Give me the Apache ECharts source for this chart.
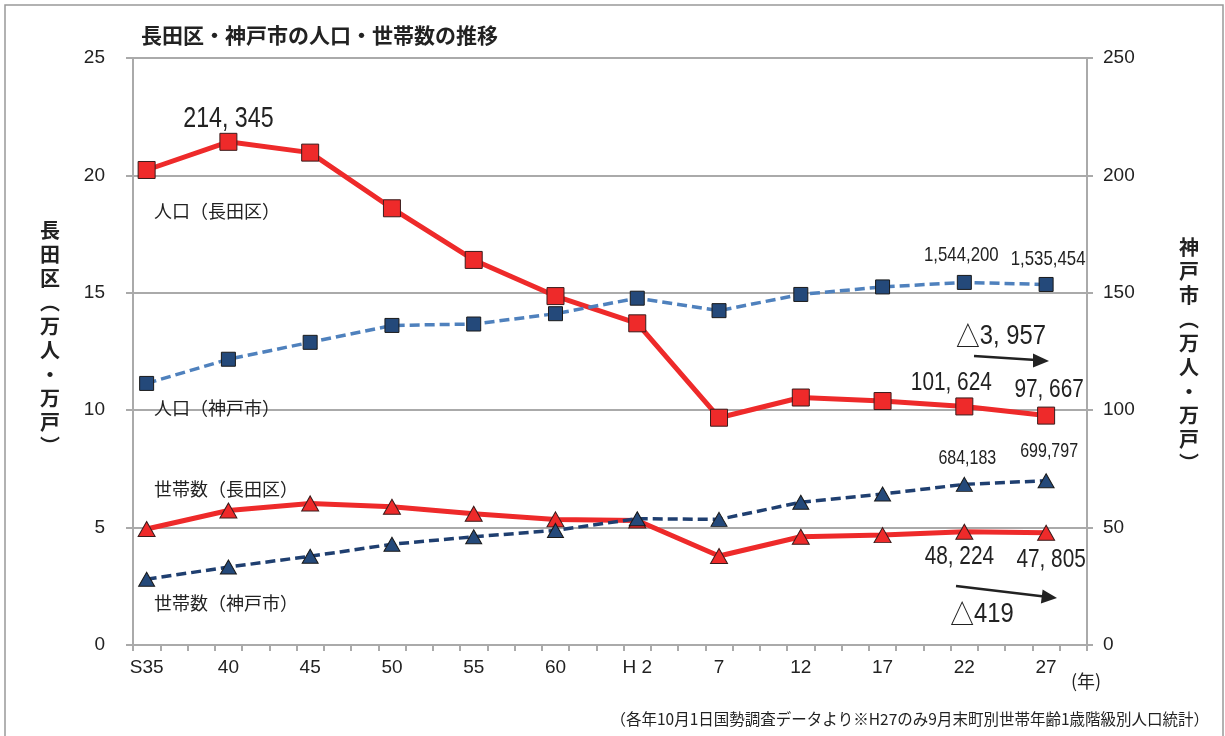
<!DOCTYPE html>
<html>
<head>
<meta charset="utf-8">
<script src="https://cdn.jsdelivr.net/npm/echarts@6/dist/echarts.min.js"></script>
<style>
html, body { margin: 0; padding: 0; background: #fff; }
#main { width: 1225px; height: 736px; }
</style>
</head>
<body>
<div id="main"></div>
<script>
// 調査年（和暦）
const years = ['S35', '40', '45', '50', '55', '60', 'H 2', '7', '12', '17', '22', '27'];
// 長田区（万人・万戸） 左軸
const nagataPop = [20.23, 21.43, 20.97, 18.60, 16.40, 14.86, 13.70, 9.68, 10.54, 10.39, 10.16, 9.77];
const nagataHh = [4.94, 5.73, 6.03, 5.89, 5.59, 5.35, 5.30, 3.79, 4.61, 4.68, 4.82, 4.78];
// 神戸市（万人・万戸） 右軸
const kobePop = [111.4, 121.7, 128.9, 136.1, 136.7, 141.1, 147.7, 142.4, 149.3, 152.5, 154.42, 153.55];
const kobeHh = [28.0, 33.2, 37.8, 42.9, 46.1, 48.8, 53.8, 53.5, 60.8, 64.3, 68.42, 69.98];

// 元のグラフは1区間を3目盛りに分けているので、35カテゴリに展開する
const STEP = 3;
const N_CAT = 35;
const cats = [];
for (let i = 0; i < N_CAT; i++) cats.push(i % STEP === 0 ? years[i / STEP] : '');

function spread(values) {
  const out = new Array(N_CAT).fill(null);
  values.forEach((v, k) => { out[k * STEP] = v; });
  return out;
}

// 数値ラベル（系列番号, 年の番号, 表示, ずらし, 文字サイズ）
const valueNotes = [
  [0, 1, '214, 345', 0, -23, 29],
  [0, 10, '101, 624', -13, -24, 26],
  [0, 11, '97, 667', 3, -26, 26],
  [1, 10, '48, 224', -5, 25, 26],
  [1, 11, '47, 805', 5, 27, 26],
  [2, 10, '1,544,200', -3, -27, 21],
  [2, 11, '1,535,454', 2, -25, 21],
  [3, 10, '684,183', 3, -26, 20],
  [3, 11, '699,797', 3, -29, 20]
];

const NUM_FONT = "'Liberation Sans', Arial, sans-serif";
const JP_FONT = "'Noto Sans CJK JP', sans-serif";
const red = '#ee2a2a';
const blueLine = '#4f81bd';
const navy = '#24497a';

const chart = echarts.init(document.getElementById('main'));

const seriesValues = [nagataPop, nagataHh, kobePop, kobeHh];
const seriesAxis = [0, 0, 1, 1];

const option = {
  animation: false,
  title: {
    text: '長田区・神戸市の人口・世帯数の推移',
    left: 136, top: 20,
    textStyle: { fontSize: 21, fontWeight: 'bold', color: '#222', fontFamily: JP_FONT }
  },
  grid: { left: 133, right: 138, top: 58, bottom: 91 },
  xAxis: {
    type: 'category',
    data: cats,
    boundaryGap: true,
    axisLine: { lineStyle: { color: '#aaa', width: 2 } },
    axisTick: { show: true, interval: 0, length: 6, lineStyle: { color: '#aaa', width: 2 } },
    axisLabel: { interval: 0, margin: 13, fontSize: 19, color: '#222', fontFamily: NUM_FONT }
  },
  yAxis: [
    {
      type: 'value', min: 0, max: 25, interval: 5, position: 'left',
      axisLine: { show: true, lineStyle: { color: '#aaa', width: 2 } },
      axisTick: { show: true, length: 7, lineStyle: { color: '#aaa', width: 2 } },
      splitLine: { lineStyle: { color: '#aaa', width: 2 } },
      axisLabel: { margin: 28, fontSize: 19, color: '#222', fontFamily: NUM_FONT }
    },
    {
      type: 'value', min: 0, max: 250, interval: 50, position: 'right',
      axisLine: { show: true, lineStyle: { color: '#aaa', width: 2 } },
      axisTick: { show: true, length: 6, lineStyle: { color: '#aaa', width: 2 } },
      splitLine: { show: false },
      axisLabel: { margin: 16, fontSize: 19, color: '#222', fontFamily: NUM_FONT }
    }
  ],
  series: [
    {
      name: '人口(長田区)', type: 'line', yAxisIndex: 0, connectNulls: true,
      data: spread(nagataPop),
      symbol: 'rect', symbolSize: 17,
      lineStyle: { color: red, width: 5 },
      itemStyle: { color: red, borderColor: '#3a1c1c', borderWidth: 1 },
      z: 2
    },
    {
      name: '世帯数(長田区)', type: 'line', yAxisIndex: 0, connectNulls: true,
      data: spread(nagataHh),
      symbol: 'triangle', symbolSize: [17, 15],
      lineStyle: { color: red, width: 5 },
      itemStyle: { color: red, borderColor: '#3a1c1c', borderWidth: 1 },
      z: 2
    },
    {
      name: '人口(神戸市)', type: 'line', yAxisIndex: 1, connectNulls: true,
      data: spread(kobePop),
      symbol: 'rect', symbolSize: 14,
      lineStyle: { color: blueLine, width: 3.5, type: [10, 5] },
      itemStyle: { color: navy, borderColor: '#1a1a1a', borderWidth: 1 },
      z: 3
    },
    {
      name: '世帯数(神戸市)', type: 'line', yAxisIndex: 1, connectNulls: true,
      data: spread(kobeHh),
      symbol: 'triangle', symbolSize: [16, 14],
      lineStyle: { color: '#1f3f70', width: 3.5, type: [10, 5] },
      itemStyle: { color: navy, borderColor: '#1a1a1a', borderWidth: 1 },
      z: 3
    }
  ]
};

chart.setOption(option);

const graphics = [
  { type: 'rect', shape: { x: 5, y: 5, width: 1218, height: 740 }, style: { fill: 'none', stroke: '#999', lineWidth: 1.5 }, silent: true },
  // 縦書きの軸名
  { type: 'text', x: 50, y: 218, style: { text: '長\n田\n区\n︵\n万\n人\n・\n万\n戸\n︶', fontSize: 20, fontWeight: 'bold', fontFamily: JP_FONT, lineHeight: 24, align: 'center', verticalAlign: 'top', fill: '#222' } },
  { type: 'text', x: 1189, y: 235, style: { text: '神\n戸\n市\n︵\n万\n人\n・\n万\n戸\n︶', fontSize: 20, fontWeight: 'bold', fontFamily: JP_FONT, lineHeight: 24, align: 'center', verticalAlign: 'top', fill: '#222' } },
  // 系列名
  { type: 'text', x: 154, y: 211, style: { text: '人口（長田区）', fontSize: 18, fontFamily: JP_FONT, fill: '#222', verticalAlign: 'middle' } },
  { type: 'text', x: 154, y: 408, style: { text: '人口（神戸市）', fontSize: 18, fontFamily: JP_FONT, fill: '#222', verticalAlign: 'middle' } },
  { type: 'text', x: 154, y: 489, style: { text: '世帯数（長田区）', fontSize: 18, fontFamily: JP_FONT, fill: '#222', verticalAlign: 'middle' } },
  { type: 'text', x: 154, y: 603, style: { text: '世帯数（神戸市）', fontSize: 18, fontFamily: JP_FONT, fill: '#222', verticalAlign: 'middle' } },
  // 増減
  {
    type: 'text', x: 1001, y: 336, scaleX: 0.85,
    style: {
      text: '{t|△}{n|3, 957}', align: 'center', verticalAlign: 'middle',
      rich: { t: { fontSize: 28, fontFamily: JP_FONT, fill: '#222' }, n: { fontSize: 28, fontFamily: NUM_FONT, fill: '#222' } }
    }
  },
  { type: 'line', shape: { x1: 974, y1: 356, x2: 1036, y2: 360 }, style: { stroke: '#222', lineWidth: 2.5 } },
  { type: 'polygon', shape: { points: [[1049, 361], [1033, 353.5], [1033, 367.5]] }, style: { fill: '#222' } },
  {
    type: 'text', x: 982, y: 614, scaleX: 0.85,
    style: {
      text: '{t|△}{n|419}', align: 'center', verticalAlign: 'middle',
      rich: { t: { fontSize: 28, fontFamily: JP_FONT, fill: '#222' }, n: { fontSize: 28, fontFamily: NUM_FONT, fill: '#222' } }
    }
  },
  { type: 'line', shape: { x1: 956, y1: 586, x2: 1044, y2: 596.5 }, style: { stroke: '#222', lineWidth: 2.5 } },
  { type: 'polygon', shape: { points: [[1057, 598], [1042.6, 589.6], [1040.9, 603.4]] }, style: { fill: '#222' } },
  // 単位と出典
  { type: 'text', x: 1086, y: 681, style: { text: '(年)', fontSize: 18, fontFamily: JP_FONT, fill: '#222', align: 'center', verticalAlign: 'middle' } },
  { type: 'text', x: 1209, y: 719, style: { text: '（各年10月1日国勢調査データより※H27のみ9月末町別世帯年齢1歳階級別人口統計）', fontSize: 15.5, fontFamily: JP_FONT, fill: '#222', align: 'right', verticalAlign: 'middle' } }
];

// 数値ラベルは軸の換算で点の位置を求め、縦長の字形に近づける
valueNotes.forEach(([s, k, text, dx, dy, size]) => {
  const p = chart.convertToPixel({ xAxisIndex: 0, yAxisIndex: seriesAxis[s] }, [k * STEP, seriesValues[s][k]]);
  graphics.push({
    type: 'text', x: p[0] + dx, y: p[1] + dy, scaleX: 0.8, z: 10,
    style: { text: text, fontSize: size, fontFamily: NUM_FONT, fill: '#222', align: 'center', verticalAlign: 'middle' }
  });
});

chart.setOption({ graphic: graphics });
</script>
</body>
</html>
